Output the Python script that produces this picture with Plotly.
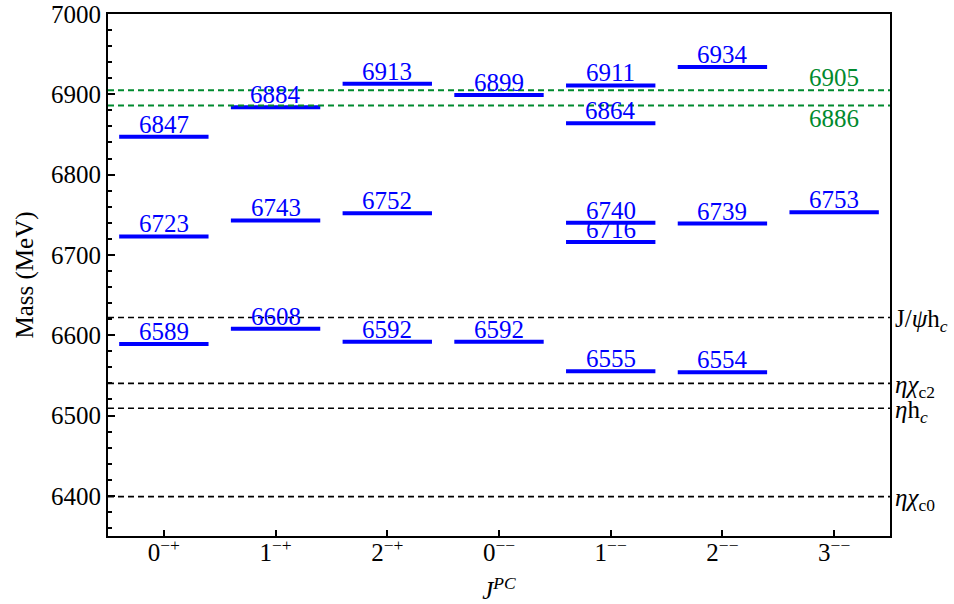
import plotly.graph_objects as go

# J^PC channels along the x axis
channels = ["0−+", "1−+", "2−+", "0−−", "1−−", "2−−", "3−−"]
channel_ticks = ["0<sup>−+</sup>", "1<sup>−+</sup>", "2<sup>−+</sup>", "0<sup>−−</sup>",
                 "1<sup>−−</sup>", "2<sup>−−</sup>", "3<sup>−−</sup>"]

# predicted masses (MeV) per channel
masses = {
    "0−+": [6589, 6723, 6847],
    "1−+": [6608, 6743, 6884],
    "2−+": [6592, 6752, 6913],
    "0−−": [6592, 6899],
    "1−−": [6555, 6716, 6740, 6864, 6911],
    "2−−": [6554, 6739, 6934],
    "3−−": [6753],
}

# experimental structures (MeV)
exp_masses = [6905, 6886]

# meson-meson thresholds (MeV)
threshold_names = ["J/<i>ψ</i>h<sub><i>c</i></sub>", "<i>ηχ</i><sub>c2</sub>",
                   "<i>η</i>h<sub><i>c</i></sub>", "<i>ηχ</i><sub>c0</sub>"]
threshold_masses = [6622, 6540, 6509, 6399]

FONT = "Liberation Serif"
BLUE = "#0000ff"
GREEN = "#008a2e"
HALF = 0.4

fig = go.Figure()

# horizontal level bars
xs, ys = [], []
for i, ch in enumerate(channels):
    for m in masses[ch]:
        xs += [i - HALF, i + HALF, None]
        ys += [m, m, None]
fig.add_trace(go.Scatter(x=xs, y=ys, mode="lines", line=dict(color=BLUE, width=4),
                         hoverinfo="skip", showlegend=False))

# threshold lines
for m in threshold_masses:
    fig.add_trace(go.Scatter(x=[-0.5, 6.5], y=[m, m], mode="lines",
                             line=dict(color="black", width=1.6, dash="6px,4px"),
                             hoverinfo="skip", showlegend=False))

# experimental lines
for m in exp_masses:
    fig.add_trace(go.Scatter(x=[-0.5, 6.5], y=[m, m], mode="lines",
                             line=dict(color=GREEN, width=2, dash="6px,4px"),
                             hoverinfo="skip", showlegend=False))

annotations = []
for i, ch in enumerate(channels):
    for m in masses[ch]:
        annotations.append(dict(x=i, y=m, xref="x", yref="y", text=str(m), showarrow=False,
                                yanchor="bottom", xanchor="center", yshift=-3,
                                font=dict(family=FONT, size=25, color=BLUE)))

annotations.append(dict(x=6, y=exp_masses[0], xref="x", yref="y", text=str(exp_masses[0]),
                        showarrow=False, yanchor="bottom", xanchor="center", yshift=-3,
                        font=dict(family=FONT, size=25, color=GREEN)))
annotations.append(dict(x=6, y=exp_masses[1], xref="x", yref="y", text=str(exp_masses[1]),
                        showarrow=False, yanchor="top", xanchor="center", yshift=3,
                        font=dict(family=FONT, size=25, color=GREEN)))

for name, m in zip(threshold_names, threshold_masses):
    annotations.append(dict(x=1, y=m, xref="paper", yref="y", text=name, showarrow=False,
                            xanchor="left", yanchor="middle", xshift=3, yshift=-3,
                            font=dict(family=FONT, size=25, color="black")))

fig.update_layout(
    width=954, height=604,
    margin=dict(l=108, r=64, t=14, b=68, autoexpand=False),
    paper_bgcolor="white", plot_bgcolor="white",
    font=dict(family=FONT, size=25, color="black"),
    annotations=annotations,
    xaxis=dict(
        range=[-0.5, 6.5], tickvals=list(range(len(channels))), ticktext=channel_ticks,
        showline=True, linecolor="black", linewidth=2, mirror=True,
        ticks="inside", ticklen=6, tickwidth=1.5, tickcolor="black",
        tickfont=dict(family=FONT, size=25), ticklabelstandoff=-7,
        showgrid=False, zeroline=False, automargin=False,
        title=dict(text="<i>J<sup>PC</sup></i>", font=dict(family=FONT, size=25), standoff=31),
    ),
    yaxis=dict(
        range=[6350, 7000], dtick=100, tick0=6400,
        showline=True, linecolor="black", linewidth=2, mirror=True,
        ticks="inside", ticklen=7, tickwidth=1.5, tickcolor="black",
        tickfont=dict(family=FONT, size=25),
        minor=dict(dtick=20, ticks="inside", ticklen=4, tickwidth=1.5, tickcolor="black"),
        showgrid=False, zeroline=False, automargin=False,
        title=dict(text="Mass (MeV)", font=dict(family=FONT, size=25), standoff=10),
    ),
)

fig.write_html("out.html")
